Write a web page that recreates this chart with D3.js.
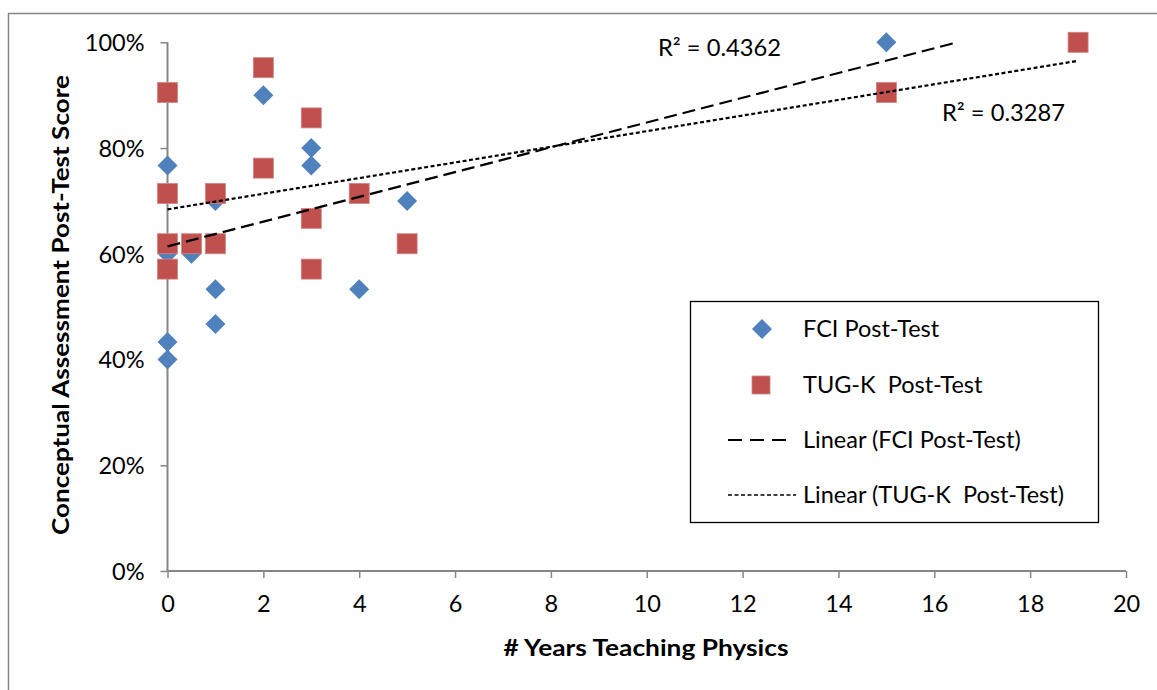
<!DOCTYPE html>
<html>
<head>
<meta charset="utf-8">
<script src="https://cdn.jsdelivr.net/npm/d3@7"></script>
<style>
  html, body { margin: 0; padding: 0; background: #fff; }
  svg { display: block; }
  text { font-family: Lato, "Open Sans", "Liberation Sans", sans-serif; fill: #000; }
</style>
</head>
<body>
<svg id="chart" width="1157" height="690"></svg>
<script>
// ---- Data ----
const fciYears  = [0, 0, 0, 0, 0.5, 1, 1, 1, 2, 3, 3, 4, 5, 15];
const fciScores = [0.767, 0.600, 0.433, 0.400, 0.600, 0.700, 0.533, 0.467, 0.900, 0.800, 0.767, 0.533, 0.700, 1.000];

const tugYears  = [0, 0, 0, 0, 0.5, 1, 1, 2, 2, 3, 3, 3, 4, 5, 15, 19];
const tugScores = [0.905, 0.714, 0.619, 0.571, 0.619, 0.714, 0.619, 0.952, 0.762, 0.857, 0.667, 0.571, 0.714, 0.619, 0.905, 1.000];

// Linear trendlines (end points)
const fciTrendX = [0, 16.48];
const fciTrendY = [0.614, 1.000];
const tugTrendX = [0, 19];
const tugTrendY = [0.684, 0.965];

const fciR2Label = "R² = 0.4362";
const tugR2Label = "R² = 0.3287";

const xTicks = [0, 2, 4, 6, 8, 10, 12, 14, 16, 18, 20];
const yTicks = [0, 0.2, 0.4, 0.6, 0.8, 1.0];

const legendLabels = ["FCI Post-Test", "TUG-K  Post-Test", "Linear (FCI Post-Test)", "Linear (TUG-K  Post-Test)"];

// ---- Styles ----
const blue = "#4F81BD", red = "#C0504D", axisGray = "#868686";
const fontSize = "23.5px";

const svg = d3.select("#chart");

// outer chart border
svg.append("rect").attr("x", 8.5).attr("y", 13.5).attr("width", 1170).attr("height", 700)
  .attr("fill", "none").attr("stroke", axisGray).attr("stroke-width", 1.5);

const x = d3.scaleLinear().domain([0, 20]).range([167.5, 1126]);
const y = d3.scaleLinear().domain([0, 1]).range([571, 42.3]);

// axes
const yAxis = d3.axisLeft(y).tickValues(yTicks).tickFormat(d3.format(".0%")).tickSize(7).tickPadding(16);
const xAxis = d3.axisBottom(x).tickValues(xTicks).tickFormat(d3.format("d")).tickSize(7).tickPadding(17);

const gy = svg.append("g").attr("transform", `translate(${x(0)},0)`).call(yAxis);
const gx = svg.append("g").attr("transform", `translate(0,${y(0)})`).call(xAxis);
[gx, gy].forEach(g => {
  g.select(".domain").attr("stroke", axisGray).attr("stroke-width", 2);
  g.selectAll(".tick line").attr("stroke", axisGray).attr("stroke-width", 1.5);
  g.selectAll(".tick text").style("font-size", fontSize).attr("fill", "#000")
    .style("font-family", "Lato, 'Open Sans', sans-serif");
});
gy.select(".domain").attr("d", `M0,${y(1)}V${y(0)}`);
gx.select(".domain").attr("d", `M${x(0)},0H${x(20)}`);
gy.selectAll(".tick text").attr("dy", "0.36em");

// markers
const diamond = d3.symbol().type(d3.symbolSquare).size(200);
svg.append("g").selectAll("path").data(fciYears.map((v, i) => [v, fciScores[i]]))
  .join("path")
  .attr("d", diamond)
  .attr("transform", d => `translate(${x(d[0])},${y(d[1])}) rotate(45)`)
  .attr("fill", blue);

const sq = 20;
svg.append("g").selectAll("rect").data(tugYears.map((v, i) => [v, tugScores[i]]))
  .join("rect")
  .attr("x", d => x(d[0]) - sq / 2).attr("y", d => y(d[1]) - sq / 2)
  .attr("width", sq).attr("height", sq)
  .attr("fill", red).attr("stroke", "#D08482").attr("stroke-width", 0.8);

// trendlines
const line = d3.line().x(d => x(d[0])).y(d => y(d[1]));
svg.append("path").datum(fciTrendX.map((v, i) => [v, fciTrendY[i]]))
  .attr("d", line).attr("fill", "none").attr("stroke", "#000")
  .attr("stroke-width", 2.2).attr("stroke-dasharray", "13,6");
svg.append("path").datum(tugTrendX.map((v, i) => [v, tugTrendY[i]]))
  .attr("d", line).attr("fill", "none").attr("stroke", "#000")
  .attr("stroke-width", 2.2).attr("stroke-dasharray", "4,2.5");

// R² labels
svg.append("text").attr("x", 658).attr("y", 56).style("font-size", fontSize)
  .attr("textLength", 123).attr("lengthAdjust", "spacingAndGlyphs").text(fciR2Label);
svg.append("text").attr("x", 942).attr("y", 121).style("font-size", fontSize)
  .attr("textLength", 123).attr("lengthAdjust", "spacingAndGlyphs").text(tugR2Label);

// axis titles
svg.append("text").attr("x", 646).attr("y", 656).attr("text-anchor", "middle")
  .style("font-size", "23px").style("font-weight", "bold")
  .attr("textLength", 285).attr("lengthAdjust", "spacingAndGlyphs")
  .text("# Years Teaching Physics");
svg.append("text").attr("transform", "translate(69,305) rotate(-90)").attr("text-anchor", "middle")
  .style("font-size", "23px").style("font-weight", "bold")
  .attr("textLength", 460).attr("lengthAdjust", "spacingAndGlyphs")
  .text("Conceptual Assessment Post-Test Score");

// legend
const lg = svg.append("g");
lg.append("rect").attr("x", 690.5).attr("y", 301.5).attr("width", 408).attr("height", 221)
  .attr("fill", "#fff").attr("stroke", "#000").attr("stroke-width", 1.3);
const rowsY = [329, 385, 440, 495];
lg.append("path").attr("d", diamond).attr("transform", `translate(762,${rowsY[0]}) rotate(45)`).attr("fill", blue);
lg.append("rect").attr("x", 752).attr("y", rowsY[1] - 9).attr("width", 18).attr("height", 18)
  .attr("fill", red).attr("stroke", "#D08482").attr("stroke-width", 0.8);
lg.append("line").attr("x1", 728).attr("x2", 790).attr("y1", rowsY[2]).attr("y2", rowsY[2])
  .attr("stroke", "#000").attr("stroke-width", 2).attr("stroke-dasharray", "14,8");
lg.append("line").attr("x1", 728).attr("x2", 796).attr("y1", rowsY[3]).attr("y2", rowsY[3])
  .attr("stroke", "#000").attr("stroke-width", 1.5).attr("stroke-dasharray", "4,2.5");
lg.selectAll("text.lab").data(legendLabels).join("text").attr("class", "lab")
  .attr("x", 803).attr("y", (d, i) => rowsY[i] + 8)
  .style("font-size", fontSize).style("white-space", "pre")
  .text(d => d);
</script>
</body>
</html>
